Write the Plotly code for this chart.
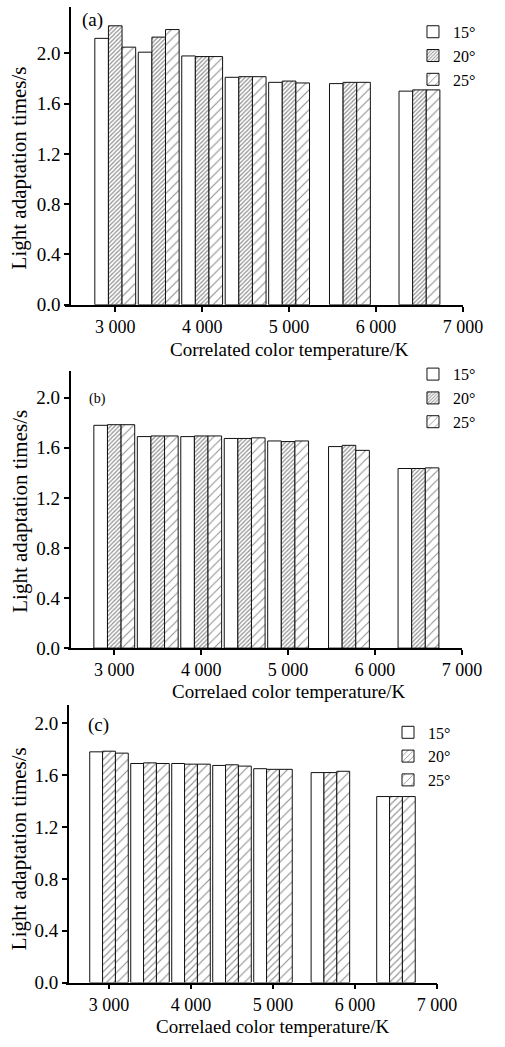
import plotly.graph_objects as go

W, H = 505, 1047

cct = [3000, 3500, 4000, 4500, 5000, 5700, 6500]
series_names = ["15°", "20°", "25°"]

a15 = [2.12, 2.01, 1.98, 1.81, 1.77, 1.76, 1.70]
a20 = [2.22, 2.13, 1.975, 1.815, 1.78, 1.77, 1.71]
a25 = [2.05, 2.19, 1.975, 1.815, 1.765, 1.77, 1.71]

b15 = [1.78, 1.69, 1.69, 1.675, 1.655, 1.61, 1.435]
b20 = [1.785, 1.695, 1.695, 1.675, 1.65, 1.62, 1.435]
b25 = [1.785, 1.695, 1.695, 1.68, 1.655, 1.58, 1.44]

c15 = [1.78, 1.69, 1.69, 1.675, 1.65, 1.62, 1.435]
c20 = [1.785, 1.695, 1.685, 1.68, 1.645, 1.62, 1.435]
c25 = [1.77, 1.69, 1.685, 1.67, 1.645, 1.63, 1.435]

xticks = [3000, 4000, 5000, 6000, 7000]
xticktext = ["3 000", "4 000", "5 000", "6 000", "7 000"]
ytitle = "Light adaptation times/s"
xtitles = ["Correlated color temperature/K", "Correlaed color temperature/K",
           "Correlaed color temperature/K"]
panel_labels = ["(a)", "(b)", "(c)"]

FONT = "Liberation Serif, Times New Roman, serif"

# pixel geometry per panel (from top-left)
panels = [
    dict(data=[a15, a20, a25], x0px=68, yaxpx=73, t3000=120, t7000=482,
         ybot=308, ytop=7, ppu=127.0, pats=[(3, 0.4), (7, 0.16)],
         leg=(430, 15), lab=(96, 20, 19), xtitle_y=353, ytitle_y=170),
    dict(data=[b15, b20, b25], x0px=71, yaxpx=72.5, t3000=119, t7000=481,
         ybot=655, ytop=375, ppu=126.5, pats=[(3, 0.4), (6.5, 0.16)],
         leg=(430, 361), lab=(102, 403, 14), xtitle_y=699, ytitle_y=517),
    dict(data=[c15, c20, c25], x0px=69, yaxpx=70.7, t3000=113.5, t7000=455,
         ybot=993, ytop=712, ppu=131.0, pats=[(5, 0.22), (7.5, 0.15)],
         leg=(404, 723), lab=(103, 733, 19), xtitle_y=1037, ytitle_y=858),
]

fig = go.Figure()
annotations = []

for i, p in enumerate(panels):
    k = "" if i == 0 else str(i + 1)
    xa, ya = "x" + k, "y" + k
    legname = "legend" + k
    fills = [("", 8, 0.2), ("/",) + p["pats"][0], ("/",) + p["pats"][1]]
    for j, (vals, name) in enumerate(zip(p["data"], series_names)):
        shape, size, sol = fills[j]
        fig.add_trace(go.Bar(
            x=cct, y=vals, name=name, xaxis=xa, yaxis=ya, legend=legname,
            marker=dict(color="white", line=dict(color="#111", width=1),
                        pattern=dict(shape=shape, size=size, solidity=sol,
                                     fgcolor="#222", bgcolor="white")),
        ))
    pxk = (p["t7000"] - p["t3000"]) / 4000.0
    xmin = 3000 - (p["t3000"] - p["x0px"]) / pxk
    ymax = (p["ybot"] - p["ytop"]) / p["ppu"]
    xdom = [p["x0px"] / W, p["t7000"] / W]
    ydom = [(H - p["ybot"]) / H, (H - p["ytop"]) / H]
    fig.layout["xaxis" + k] = dict(
        domain=xdom, range=[xmin, 7000], anchor=ya, showline=True,
        linecolor="black", linewidth=1.5, ticks="outside", ticklen=5,
        tickwidth=1.5, tickcolor="black", tickvals=xticks, ticktext=xticktext,
        showgrid=False, zeroline=False,
        tickfont=dict(family=FONT, size=18, color="black"))
    fig.layout["yaxis" + k] = dict(
        domain=ydom, range=[0, ymax], anchor="free", position=p["yaxpx"] / W,
        showline=True, linecolor="black", linewidth=1.5, ticks="outside",
        ticklen=5, tickwidth=1.5, tickcolor="black", dtick=0.4, tick0=0,
        tickformat=".1f", showgrid=False, zeroline=False,
        tickfont=dict(family=FONT, size=19, color="black"))
    fig.layout[legname] = dict(
        x=p["leg"][0] / W, y=(H - p["leg"][1]) / H, xanchor="left",
        yanchor="top", bgcolor="rgba(0,0,0,0)",
        font=dict(family=FONT, size=16, color="black"), tracegroupgap=0,
        itemwidth=30)
    annotations.append(dict(
        text=panel_labels[i], x=p["lab"][0] / W, y=(H - p["lab"][1]) / H,
        xref="paper", yref="paper", showarrow=False, xanchor="center",
        yanchor="middle", font=dict(family=FONT, size=p["lab"][2], color="black")))
    annotations.append(dict(
        text=xtitles[i], x=(p["t3000"] + p["t7000"]) / 2 / W,
        y=(H - p["xtitle_y"]) / H, xref="paper", yref="paper",
        showarrow=False, xanchor="center", yanchor="middle",
        font=dict(family=FONT, size=19, color="black")))
    annotations.append(dict(
        text=ytitle, x=20 / W, y=(H - p["ytitle_y"]) / H, xref="paper",
        yref="paper", showarrow=False, textangle=-90, xanchor="center",
        yanchor="middle", font=dict(family=FONT, size=21, color="black")))

fig.update_layout(
    width=W, height=H, margin=dict(l=0, r=0, t=0, b=0),
    paper_bgcolor="white", plot_bgcolor="white",
    barmode="group", bargap=0.06, bargroupgap=0,
    showlegend=True, annotations=annotations,
    font=dict(family=FONT, color="black"),
)

fig.write_html("out.html")
